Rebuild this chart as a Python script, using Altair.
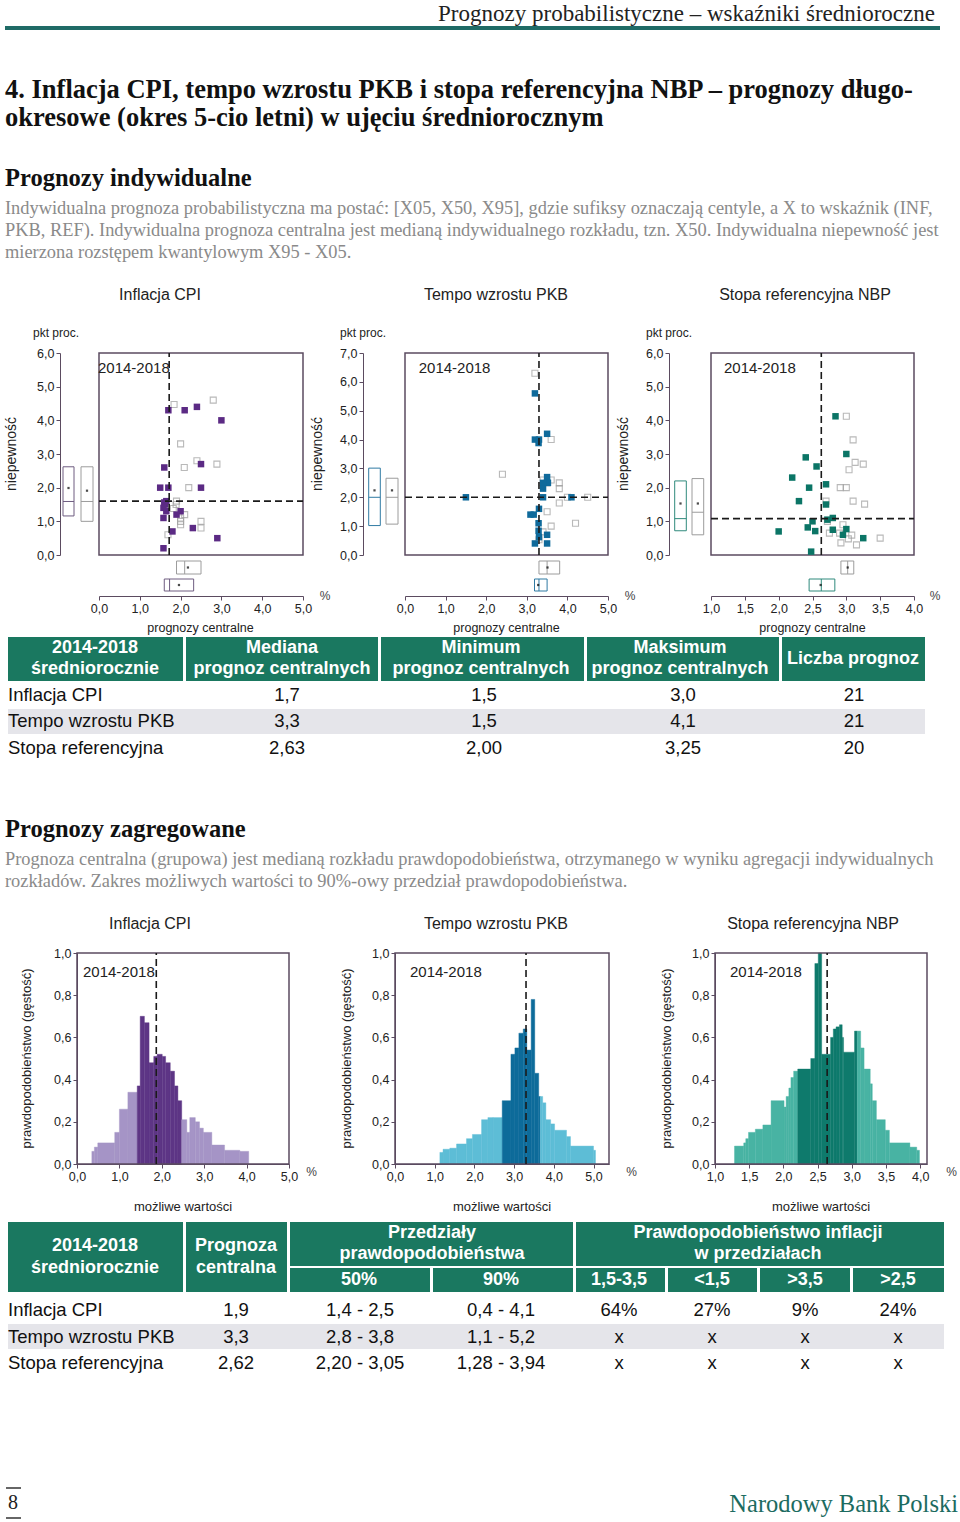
import altair as alt
import pandas as pd

SANS = "Liberation Sans"
SERIF = "Liberation Serif"

# ------------------------------------------------------------------ data
# Individual forecasts: central forecast (x, %) and uncertainty (y, pp)
cpi_cur_x = [1.7, 2.1, 2.4, 3.0, 1.6, 2.5, 1.5, 1.7, 2.5, 1.65, 1.6, 1.62, 1.58, 1.65, 2.0, 1.9, 1.58, 2.3, 1.8, 2.9, 1.58]
cpi_cur_y = [4.3, 4.3, 4.4, 4.0, 2.6, 2.7, 2.0, 2.0, 2.0, 1.6, 1.56, 1.5, 1.4, 1.3, 1.3, 1.2, 1.1, 0.8, 0.7, 0.5, 0.2]
cpi_prev_x = [2.8, 1.84, 2.0, 2.4, 2.09, 2.89, 2.2, 1.9, 1.89, 1.82, 2.1, 2.0, 2.0, 2.0, 2.5, 2.5, 1.69]
cpi_prev_y = [4.6, 4.47, 3.3, 2.8, 2.6, 2.7, 2.0, 1.6, 1.5, 1.38, 1.2, 1.1, 1.0, 0.9, 1.0, 0.8, 0.6]

pkb_cur_x = [3.2, 3.2, 3.3, 3.29, 3.5, 3.5, 3.52, 3.4, 3.4, 3.4, 1.5, 4.1, 3.3, 3.09, 3.17, 3.29, 3.29, 3.5, 3.3, 3.2, 3.5]
pkb_cur_y = [5.6, 4.0, 4.0, 3.88, 4.2, 2.7, 2.5, 2.5, 2.3, 2.0, 2.0, 2.0, 1.6, 1.4, 1.4, 1.1, 0.84, 0.7, 0.62, 0.4, 0.4]
pkb_prev_x = [3.2, 3.6, 2.4, 3.4, 3.6, 3.8, 3.8, 4.0, 4.5, 3.8, 3.5, 4.2, 3.6, 3.4, 3.3, 3.5]
pkb_prev_y = [6.3, 4.0, 2.8, 2.6, 2.6, 2.5, 2.3, 2.0, 2.0, 1.8, 1.5, 1.1, 1.0, 0.8, 0.53, 2.5]

nbp_cur_x = [2.84, 2.4, 3.0, 2.56, 2.2, 2.45, 2.7, 2.3, 2.7, 2.8, 2.72, 2.5, 2.43, 2.54, 2.8, 2.0, 3.0, 2.95, 3.25, 2.48]
nbp_cur_y = [4.12, 2.9, 3.0, 2.63, 2.3, 2.0, 2.1, 1.6, 1.5, 1.1, 1.05, 1.0, 0.82, 0.71, 0.75, 0.7, 0.77, 0.6, 0.5, 0.1]
nbp_prev_x = [3.0, 3.1, 3.13, 3.25, 3.04, 2.91, 3.0, 2.7, 3.1, 3.27, 2.72, 2.95, 2.75, 2.9, 3.08, 3.03, 2.92, 3.15, 3.5]
nbp_prev_y = [4.12, 3.42, 2.75, 2.7, 2.53, 2.0, 2.0, 1.6, 1.6, 1.51, 1.0, 0.9, 0.65, 0.65, 0.59, 0.48, 0.36, 0.3, 0.5]

# medians of central forecasts / uncertainty (dashed lines)
cpi_med = [1.72, 1.6]
pkb_med = [3.3, 2.0]
nbp_med = [2.63, 1.08]

# box summaries [low, high, median, mean]
cpi_unc_cur, cpi_unc_prev = [1.16, 2.62, 1.59, 1.99], [1.0, 2.62, 1.59, 1.91]
cpi_cen_cur, cpi_cen_prev = [1.60, 2.32, 1.73, 1.96], [1.90, 2.50, 2.10, 2.18]
pkb_unc_cur, pkb_unc_prev = [1.02, 3.01, 2.0, 2.24], [1.07, 2.66, 2.0, 2.24]
pkb_cen_cur, pkb_cen_prev = [3.19, 3.50, 3.30, 3.28], [3.30, 3.81, 3.50, 3.51]
nbp_unc_cur, nbp_unc_prev = [0.72, 2.20, 1.08, 1.53], [0.60, 2.27, 1.27, 1.53]
nbp_cen_cur, nbp_cen_prev = [2.45, 2.83, 2.63, 2.62], [2.92, 3.11, 3.02, 3.02]

# aggregated densities: bin edges, heights, 50% interval, median
cpi_edges = [0.35, 0.41, 0.49, 0.89, 1.0, 1.2, 1.42, 1.49, 1.59, 1.70, 1.81, 1.89, 2.01, 2.09, 2.20, 2.30, 2.38,
             2.47, 2.59, 2.66, 2.79, 2.89, 2.98, 3.18, 3.48, 3.84, 4.05]
cpi_dens = [0.06, 0.08, 0.10, 0.15, 0.26, 0.34, 0.37, 0.70, 0.67, 0.48, 0.51, 0.52, 0.51, 0.48, 0.44, 0.37, 0.30,
            0.21, 0.15, 0.22, 0.20, 0.17, 0.15, 0.09, 0.065, 0.06]
cpi_band, cpi_center = [1.42, 2.47], 1.87

pkb_edges = [1.13, 1.21, 1.38, 1.55, 1.80, 1.95, 2.18, 2.34, 2.47, 2.70, 2.92, 3.02, 3.12, 3.23, 3.32, 3.43, 3.52,
             3.62, 3.66, 3.72, 3.80, 3.92, 4.02, 4.32, 4.42, 5.0, 5.05]
pkb_dens = [0.055, 0.07, 0.075, 0.095, 0.12, 0.14, 0.21, 0.22, 0.22, 0.30, 0.52, 0.55, 0.62, 0.64, 0.54, 0.78, 0.43,
            0.32, 0.32, 0.29, 0.21, 0.19, 0.16, 0.13, 0.085, 0.065]
pkb_band, pkb_center = [2.70, 3.66], 3.3

nbp_edges = [1.285, 1.42, 1.45, 1.49, 1.59, 1.70, 1.82, 2.01, 2.04, 2.08, 2.11, 2.15, 2.21, 2.40, 2.46, 2.51, 2.56,
             2.69, 2.73, 2.77, 2.82, 2.86, 2.88, 3.04, 3.08, 3.13, 3.18, 3.27, 3.30, 3.36, 3.49, 3.55, 3.85, 3.95, 3.99]
nbp_dens = [0.085, 0.10, 0.12, 0.15, 0.165, 0.185, 0.30, 0.27, 0.32, 0.36, 0.41, 0.44, 0.45, 0.50, 0.95, 1.0, 0.52,
            0.60, 0.64, 0.65, 0.66, 0.60, 0.53, 0.63, 0.63, 0.55, 0.45, 0.38, 0.30, 0.21, 0.16, 0.10, 0.08, 0.065]
nbp_band, nbp_center = [2.21, 3.08], 2.64

# tables
row_labels = ["Inflacja CPI", "Tempo wzrostu PKB", "Stopa referencyjna"]
t1_median = ["1,7", "3,3", "2,63"]
t1_min = ["1,5", "1,5", "2,00"]
t1_max = ["3,0", "4,1", "3,25"]
t1_count = ["21", "21", "20"]
t2_central = ["1,9", "3,3", "2,62"]
t2_p50 = ["1,4 - 2,5", "2,8 - 3,8", "2,20 - 3,05"]
t2_p90 = ["0,4 - 4,1", "1,1 - 5,2", "1,28 - 3,94"]
t2_r1 = ["64%", "x", "x"]
t2_r2 = ["27%", "x", "x"]
t2_r3 = ["9%", "x", "x"]
t2_r4 = ["24%", "x", "x"]

# ------------------------------------------------------------------ style
FRAME = "#5b4b60"
GRAY = "#9c9c9c"
GREEN = "#1a7860"
ROWGRAY = "#e5e5ea"
HEADTEAL = "#1f6b66"
PARA = "#8a8a8a"
LAB = "replace(format(datum.value, '.1f'), '.', ',')"
ONE = pd.DataFrame({"a": [0]})


def axis_style(**kw):
    base = dict(grid=False, title=None, domainColor=FRAME, tickColor=FRAME, tickSize=4, labelFlush=False,
                labelFont=SANS, labelFontSize=12.5, labelColor="#222", labelPadding=2, labelExpr=LAB)
    base.update(kw)
    return alt.Axis(**base)


def label(text, x, y, size=13, align="center", baseline="middle", angle=None, color="#222",
          font=SANS, weight="normal"):
    kw = dict(align=align, baseline=baseline, fontSize=size, color=color, font=font, fontWeight=weight)
    if angle is not None:
        kw["angle"] = angle
    return alt.Chart(ONE).mark_text(**kw).encode(x=alt.value(x), y=alt.value(y), text=alt.value(text))


def scatter_panel(c):
    W, H = c["W"], 356
    FY = [275, 73]                       # frame bottom / top inside the view
    xs = alt.Scale(domain=c["xdom"], range=c["fx"], nice=False, zero=False)
    ys = alt.Scale(domain=c["ydom"], range=FY, nice=False, zero=False)
    xax = axis_style(values=c["xticks"], offset=-40)
    yax = axis_style(values=c["yticks"], offset=-c["yaxis_x"])

    def X(f):
        return alt.X(f, scale=xs, axis=xax)

    def Y(f):
        return alt.Y(f, scale=ys, axis=yax)

    cur = pd.DataFrame({"x": c["cx"], "y": c["cy"]})
    prev = pd.DataFrame({"x": c["px"], "y": c["py"]})
    dash = dict(strokeDash=[7, 4], color="#1a1a1a", strokeWidth=1.6)
    layers = [
        alt.Chart(ONE).mark_rect(filled=False, color=FRAME, strokeWidth=1.5).encode(
            x=alt.datum(c["xdom"][0], scale=xs, axis=xax), x2=alt.datum(c["xdom"][1]),
            y=alt.datum(c["ydom"][0], scale=ys, axis=yax), y2=alt.datum(c["ydom"][1])),
        alt.Chart(prev).mark_square(filled=False, color=GRAY, size=36, strokeWidth=1.1).encode(x=X("x:Q"), y=Y("y:Q")),
        alt.Chart(cur).mark_square(filled=True, color=c["color"], size=42, opacity=1).encode(x=X("x:Q"), y=Y("y:Q")),
        alt.Chart(pd.DataFrame({"v": [c["med"][0]]})).mark_rule(**dash).encode(
            x=X("v:Q"), y=alt.datum(c["ydom"][0]), y2=alt.datum(c["ydom"][1])),
        alt.Chart(pd.DataFrame({"v": [c["med"][1]]})).mark_rule(**dash).encode(
            y=Y("v:Q"), x=alt.datum(c["xdom"][0]), x2=alt.datum(c["xdom"][1])),
    ]
    # uncertainty boxes on the left
    for box, col, (x0, x1) in [(c["unc_cur"], c["boxcolor"], c["bx"][0]), (c["unc_prev"], GRAY, c["bx"][1])]:
        d = pd.DataFrame({"lo": [box[0]], "hi": [box[1]], "med": [box[2]], "mean": [box[3]]})
        layers += [
            alt.Chart(d).mark_rect(fill="white", stroke=col, strokeWidth=1)
            .encode(x=alt.value(x0), x2=alt.value(x1), y=Y("lo:Q"), y2="hi:Q"),
            alt.Chart(d).mark_rule(color=col, strokeWidth=1)
            .encode(x=alt.value(x0), x2=alt.value(x1), y=Y("med:Q")),
            alt.Chart(d).mark_square(filled=True, color="black", size=5)
            .encode(x=alt.value((x0 + x1) / 2), y=Y("mean:Q")),
        ]
    # central-forecast boxes below
    for box, col, (y0, y1) in [(c["cen_prev"], GRAY, (281, 294)), (c["cen_cur"], c["boxcolor"], (299, 311))]:
        d = pd.DataFrame({"lo": [box[0]], "hi": [box[1]], "med": [box[2]], "mean": [box[3]]})
        layers += [
            alt.Chart(d).mark_rect(fill="white", stroke=col, strokeWidth=1)
            .encode(x=X("lo:Q"), x2="hi:Q", y=alt.value(y0), y2=alt.value(y1)),
            alt.Chart(d).mark_rule(color=col, strokeWidth=1)
            .encode(x=X("med:Q"), y=alt.value(y0), y2=alt.value(y1)),
            alt.Chart(d).mark_square(filled=True, color="black", size=5)
            .encode(x=X("mean:Q"), y=alt.value((y0 + y1) / 2)),
        ]
    layers += [
        label(c["title"], c["title_x"], 15, size=16),
        label("pkt proc.", c["pkt_x"], 57, size=12, align="left", baseline="alphabetic"),
        label("niepewność", c["niep_x"], 174, size=14, angle=270),
        label("2014-2018", c["period_x"], 88, size=15, align="left"),
        label("%", c["pct_x"], 316, size=12, color="#444"),
        label("prognozy  centralne", c["pc_x"], 348, size=12.5),
    ]
    return alt.layer(*layers).properties(width=W, height=H)


def hist_panel(c):
    W, H = c["W"], 308
    FY = [254, 43]
    e, h = c["edges"], c["dens"]
    lo, hi = c["band"]
    key = c["key"]
    df = pd.DataFrame({"x0": e[:-1], "x1": e[1:], "h": h})
    df["part"] = [key + ("_in" if lo <= (a + b) / 2 <= hi else "_out") for a, b in zip(e[:-1], e[1:])]
    xs = alt.Scale(domain=c["xdom"], range=c["fx"], nice=False, zero=False)
    ys = alt.Scale(domain=[0, 1], range=FY, nice=False, zero=False)
    xax = axis_style(values=c["xticks"], offset=-54)
    yax = axis_style(values=[0, 0.2, 0.4, 0.6, 0.8, 1.0], offset=-c["fx"][0])
    pal = alt.Scale(domain=[key + "_in", key + "_out"], range=[c["dark"], c["light"]])
    bars = alt.Chart(df).mark_rect(strokeWidth=0.4).encode(
        x=alt.X("x0:Q", scale=xs, axis=xax), x2="x1:Q",
        y=alt.Y("h:Q", scale=ys, axis=yax), y2=alt.datum(0),
        color=alt.Color("part:N", scale=pal, legend=None),
        stroke=alt.Color("part:N", scale=pal, legend=None),
    )
    frame = alt.Chart(ONE).mark_rect(filled=False, color=FRAME, strokeWidth=1.5).encode(
        x=alt.datum(c["xdom"][0], scale=xs, axis=xax), x2=alt.datum(c["xdom"][1]),
        y=alt.datum(0, scale=ys, axis=yax), y2=alt.datum(1))
    med = alt.Chart(pd.DataFrame({"v": [c["center"]]})).mark_rule(
        strokeDash=[7, 4], color="#1a1a1a", strokeWidth=1.6).encode(
        x=alt.X("v:Q", scale=xs, axis=xax), y=alt.datum(0), y2=alt.datum(1))
    layers = [
        bars, frame, med,
        label(c["title"], c["title_x"], 14, size=16),
        label("2014-2018", c["period_x"], 62, size=15, align="left"),
        label("prawdopodobieństwo  (gęstość)", c["ytitle_x"], 148.5, size=13, angle=270),
        label("możliwe wartości", c["mw_x"], 296.5, size=13),
        label("%", c["pct_x"], 261.7, size=12, color="#444"),
    ]
    return alt.layer(*layers).properties(width=W, height=H)


def rect_layer(rows):
    df = pd.DataFrame(rows, columns=["x0", "x1", "y0", "y1", "fill"])
    return alt.Chart(df).mark_rect().encode(
        x=alt.X("x0:Q", scale=None, axis=None), x2="x1:Q",
        y=alt.Y("y0:Q", scale=None, axis=None), y2="y1:Q",
        color=alt.Color("fill:N", scale=None))


def text_layer(rows, align="center", size=18.5, color="#111", weight="normal", font=SANS, baseline="middle"):
    df = pd.DataFrame(rows, columns=["px", "py", "t"])
    return alt.Chart(df).mark_text(align=align, baseline=baseline, fontSize=size, color=color,
                                   fontWeight=weight, font=font).encode(
        x=alt.X("px:Q", scale=None, axis=None), y=alt.Y("py:Q", scale=None, axis=None), text="t:N")


# ------------------------------------------------------------------ row 1: page header (y 0-280)
para1 = ["Indywidualna prognoza probabilistyczna ma postać: [X05, X50, X95], gdzie sufiksy oznaczają centyle, a X to wskaźnik (INF,",
         "PKB, REF). Indywidualna prognoza centralna jest medianą indywidualnego rozkładu, tzn. X50. Indywidualna niepewność jest",
         "mierzona rozstępem kwantylowym X95 - X05."]
header = alt.layer(
    alt.Chart(ONE).mark_rule(color=HEADTEAL, strokeWidth=4).encode(x=alt.value(5), x2=alt.value(940), y=alt.value(28)),
    text_layer([[935, 21, "Prognozy probabilistyczne – wskaźniki średnioroczne"]], align="right", size=23,
               color="#222", font=SERIF, baseline="alphabetic"),
    text_layer([[5, 98, "4. Inflacja CPI, tempo wzrostu PKB i stopa referencyjna NBP – prognozy długo-"],
                [5, 126, "okresowe (okres 5-cio letni) w ujęciu średniorocznym"]],
               align="left", size=26.5, color="#111", weight="bold", font=SERIF, baseline="alphabetic"),
    text_layer([[5, 186, "Prognozy indywidualne"]], align="left", size=24.5, color="#111", weight="bold",
               font=SERIF, baseline="alphabetic"),
    text_layer([[5, 214 + 22 * i, s] for i, s in enumerate(para1)], align="left", size=18.4, color=PARA,
               font=SERIF, baseline="alphabetic"),
).properties(width=960, height=280)

# ------------------------------------------------------------------ row 2: scatter panels (y 280-636)
sc_cpi = scatter_panel(dict(W=310, fx=[99, 303], yaxis_x=60, bx=[(63, 74), (81, 93)],
                            cx=cpi_cur_x, cy=cpi_cur_y, px=cpi_prev_x, py=cpi_prev_y, color="#5b2a84",
                            boxcolor="#6e5c80", xdom=[0, 5], ydom=[0, 6], xticks=[0, 1, 2, 3, 4, 5],
                            yticks=[0, 1, 2, 3, 4, 5, 6], med=cpi_med, unc_cur=cpi_unc_cur, unc_prev=cpi_unc_prev,
                            cen_cur=cpi_cen_cur, cen_prev=cpi_cen_prev, title="Inflacja CPI",
                            title_x=160, pkt_x=33, niep_x=12, period_x=98, pct_x=325, pc_x=200.5))
sc_pkb = scatter_panel(dict(W=306, fx=[95, 298], yaxis_x=53, bx=[(58.7, 70.3), (76, 88)],
                            cx=pkb_cur_x, cy=pkb_cur_y, px=pkb_prev_x, py=pkb_prev_y, color="#0f6a9b",
                            boxcolor="#2f7aa3", xdom=[0, 5], ydom=[0, 7], xticks=[0, 1, 2, 3, 4, 5],
                            yticks=[0, 1, 2, 3, 4, 5, 6, 7], med=pkb_med, unc_cur=pkb_unc_cur, unc_prev=pkb_unc_prev,
                            cen_cur=pkb_cen_cur, cen_prev=pkb_cen_prev, title="Tempo wzrostu PKB",
                            title_x=186, pkt_x=30, niep_x=8, period_x=108.7, pct_x=320, pc_x=196.5))
sc_nbp = scatter_panel(dict(W=344, fx=[95, 298], yaxis_x=53, bx=[(58.7, 70.3), (76, 87.7)],
                            cx=nbp_cur_x, cy=nbp_cur_y, px=nbp_prev_x, py=nbp_prev_y, color="#0b7566",
                            boxcolor="#2f8a7c", xdom=[1, 4], ydom=[0, 6], xticks=[1, 1.5, 2, 2.5, 3, 3.5, 4],
                            yticks=[0, 1, 2, 3, 4, 5, 6], med=nbp_med, unc_cur=nbp_unc_cur, unc_prev=nbp_unc_prev,
                            cen_cur=nbp_cen_cur, cen_prev=nbp_cen_prev, title="Stopa referencyjna NBP",
                            title_x=189, pkt_x=30, niep_x=8, period_x=108, pct_x=319, pc_x=196.5))
row2 = alt.hconcat(sc_cpi, sc_pkb, sc_nbp, spacing=0, bounds="flush")

# ------------------------------------------------------------------ row 3: table 1 + aggregated heading (y 636-910)
t1_cols = [(8, 183), (186, 378), (381, 584), (587, 779), (782, 925)]
t1_centers = [95, 287, 484, 683, 854]
t1_rows_y = [59, 85, 112]
t1_cells = [[a, b, 1, 45, GREEN] for a, b in t1_cols] + [[8, 925, 73, 98, ROWGRAY]]
t1_head = [[95, 12, "2014-2018"], [95, 33, "średniorocznie"],
           [282, 12, "Mediana"], [282, 33, "prognoz centralnych"],
           [481, 12, "Minimum"], [481, 33, "prognoz centralnych"],
           [680, 12, "Maksimum"], [680, 33, "prognoz centralnych"],
           [853, 23, "Liczba prognoz"]]
t1_vals = []
for i, y in enumerate(t1_rows_y):
    for j, col in enumerate([t1_median, t1_min, t1_max, t1_count]):
        t1_vals.append([t1_centers[j + 1], y, col[i]])
para2 = ["Prognoza centralna (grupowa) jest medianą rozkładu prawdopodobieństwa, otrzymanego w wyniku agregacji indywidualnych",
         "rozkładów. Zakres możliwych wartości to 90%-owy przedział prawdopodobieństwa."]
table1 = alt.layer(
    rect_layer(t1_cells),
    text_layer(t1_head, size=18, color="white", weight="bold"),
    text_layer([[8, y, s] for y, s in zip(t1_rows_y, row_labels)], align="left"),
    text_layer(t1_vals),
    text_layer([[5, 201, "Prognozy zagregowane"]], align="left", size=24.5, color="#111", weight="bold",
               font=SERIF, baseline="alphabetic"),
    text_layer([[5, 229 + 22 * i, s] for i, s in enumerate(para2)], align="left", size=18.4, color=PARA,
               font=SERIF, baseline="alphabetic"),
).properties(width=960, height=274)

# ------------------------------------------------------------------ row 4: density histograms (y 910-1218)
h_cpi = hist_panel(dict(key="cpi", W=330, fx=[77, 289], edges=cpi_edges, dens=cpi_dens, band=cpi_band,
                        center=cpi_center, dark="#5d3585", light="#a594c6", xdom=[0, 5], xticks=[0, 1, 2, 3, 4, 5],
                        title="Inflacja CPI", title_x=150, period_x=83, ytitle_x=27, mw_x=183, pct_x=311.7))
h_pkb = hist_panel(dict(key="pkb", W=320, fx=[65, 279], edges=pkb_edges, dens=pkb_dens, band=pkb_band,
                        center=pkb_center, dark="#0d6b9a", light="#5dbdd6", xdom=[0, 5.39],
                        xticks=[0, 1, 2, 3, 4, 5], title="Tempo wzrostu PKB", title_x=166, period_x=80,
                        ytitle_x=17, mw_x=172, pct_x=301.7))
h_nbp = hist_panel(dict(key="nbp", W=310, fx=[65, 277], edges=nbp_edges, dens=nbp_dens, band=nbp_band,
                        center=nbp_center, dark="#0e7a6c", light="#48b3a3", xdom=[1, 4.1],
                        xticks=[1, 1.5, 2, 2.5, 3, 3.5, 4], title="Stopa referencyjna NBP", title_x=163,
                        period_x=80, ytitle_x=17, mw_x=171, pct_x=301.7))
row4 = alt.hconcat(h_cpi, h_pkb, h_nbp, spacing=0, bounds="flush").resolve_scale(color="independent",
                                                                                 stroke="independent")

# ------------------------------------------------------------------ row 5: table 2 + footer (y 1218-1522)
t2_cells = [[8, 183, 4, 74, GREEN], [186, 287, 4, 74, GREEN],
            [290, 573, 4, 48, GREEN], [290, 430, 50, 74, GREEN], [433, 573, 50, 74, GREEN],
            [576, 944, 4, 48, GREEN], [576, 665, 50, 74, GREEN], [668, 757, 50, 74, GREEN],
            [760, 850, 50, 74, GREEN], [853, 944, 50, 74, GREEN],
            [8, 944, 106, 131, ROWGRAY]]
t2_head = [[95, 28, "2014-2018"], [95, 50, "średniorocznie"],
           [236, 28, "Prognoza"], [236, 50, "centralna"],
           [432, 15, "Przedziały"], [432, 36, "prawdopodobieństwa"],
           [758, 15, "Prawdopodobieństwo inflacji"], [758, 36, "w przedziałach"],
           [359, 62, "50%"], [501, 62, "90%"], [619, 62, "1,5-3,5"], [712, 62, "<1,5"],
           [805, 62, ">3,5"], [898, 62, ">2,5"]]
t2_centers = [236, 360, 501, 619, 712, 805, 898]
t2_rows_y = [92, 119, 145]
t2_vals = []
for i, y in enumerate(t2_rows_y):
    for j, col in enumerate([t2_central, t2_p50, t2_p90, t2_r1, t2_r2, t2_r3, t2_r4]):
        t2_vals.append([t2_centers[j], y, col[i]])
table2 = alt.layer(
    rect_layer(t2_cells),
    text_layer(t2_head, size=18, color="white", weight="bold"),
    text_layer([[8, y, s] for y, s in zip(t2_rows_y, row_labels)], align="left"),
    text_layer(t2_vals),
    alt.Chart(ONE).mark_rule(color="#333", strokeWidth=1.5).encode(x=alt.value(6), x2=alt.value(21), y=alt.value(270)),
    alt.Chart(ONE).mark_rule(color="#333", strokeWidth=1.5).encode(x=alt.value(6), x2=alt.value(21), y=alt.value(300)),
    text_layer([[13, 285, "8"]], size=20, color="#222", font=SERIF),
    text_layer([[958, 294, "Narodowy Bank Polski"]], align="right", size=24.5, color="#1c6b60", font=SERIF,
               baseline="alphabetic"),
).properties(width=960, height=304)

# ------------------------------------------------------------------ page
chart = alt.vconcat(header, row2, table1, row4, table2, spacing=0).properties(
    padding=0, background="white"
).configure(font=SANS, view=alt.ViewConfig(stroke=None))

chart.save("out.html", embed_options={"renderer": "svg", "actions": False})
